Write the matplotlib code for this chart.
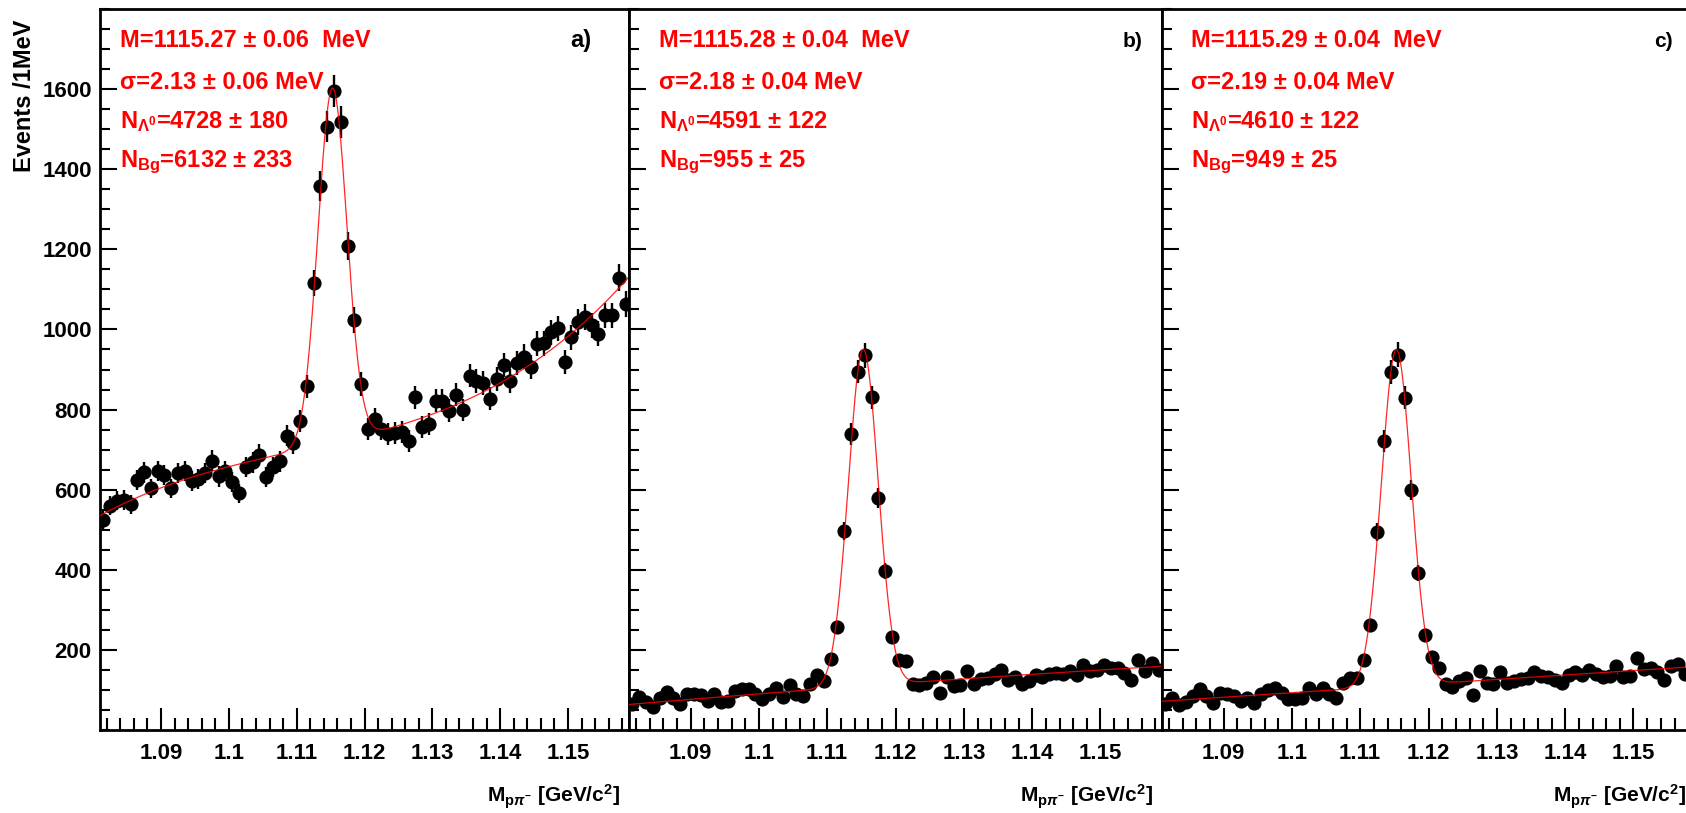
import numpy as np
import matplotlib
matplotlib.use('Agg')
import matplotlib.pyplot as plt
from matplotlib.ticker import MultipleLocator, FixedLocator, FuncFormatter

plt.rcParams['font.family'] = 'Liberation Sans'
plt.rcParams['font.weight'] = 'bold'
plt.rcParams['mathtext.fontset'] = 'custom'
plt.rcParams['mathtext.rm'] = 'Liberation Sans:bold'
plt.rcParams['mathtext.it'] = 'Liberation Sans:italic:bold'
plt.rcParams['mathtext.bf'] = 'Liberation Sans:bold'
plt.rcParams['mathtext.sf'] = 'Liberation Sans:bold'

# p pi- invariant mass, 1 MeV bins
x_lo, x_hi = 1.081, 1.159
mass = np.linspace(1.0815, 1.1585, 78)

counts_a = [525, 560, 572, 574, 564, 624, 643, 603, 647, 637,
            603, 641, 647, 622, 627, 641, 672, 633, 647, 618,
            591, 656, 668, 687, 631, 656, 671, 735, 716, 772,
            858, 1116, 1358, 1506, 1596, 1518, 1208, 1024, 864, 752,
            777, 752, 739, 741, 743, 722, 831, 756, 764, 822,
            822, 797, 837, 799, 885, 872, 866, 827, 877, 912,
            872, 916, 932, 907, 964, 966, 993, 1003, 918, 981,
            1018, 1031, 1010, 989, 1035, 1035, 1129, 1064]

counts_b = [64, 82, 71, 57, 81, 96, 81, 66, 89, 91,
            87, 72, 89, 71, 72, 97, 102, 102, 91, 77,
            89, 104, 82, 112, 89, 85, 114, 137, 122, 177,
            257, 497, 739, 895, 935, 831, 579, 397, 232, 174,
            172, 114, 112, 118, 132, 93, 132, 110, 112, 147,
            114, 127, 131, 139, 149, 124, 132, 114, 122, 137,
            132, 139, 143, 139, 147, 137, 162, 147, 149, 162,
            154, 154, 143, 124, 174, 147, 168, 150]

counts_c = [66, 81, 62, 71, 85, 102, 85, 68, 93, 89,
            85, 72, 81, 68, 89, 99, 104, 93, 77, 77,
            79, 106, 91, 104, 89, 81, 118, 131, 129, 174,
            262, 495, 721, 893, 937, 829, 599, 393, 237, 182,
            154, 114, 107, 122, 131, 87, 147, 118, 114, 146,
            118, 122, 127, 131, 146, 135, 132, 124, 118, 137,
            146, 137, 149, 139, 132, 135, 160, 132, 135, 179,
            152, 156, 146, 124, 160, 164, 139, 150]

# fit results (MeV)
fit_mass = [1115.27, 1115.28, 1115.29]
fit_mass_err = [0.06, 0.04, 0.04]
fit_sigma = [2.13, 2.18, 2.19]
fit_sigma_err = [0.06, 0.04, 0.04]
n_lambda = [4728, 4591, 4610]
n_lambda_err = [180, 122, 122]
n_bg = [6132, 955, 949]
n_bg_err = [233, 25, 25]

# background level of the fit function
bkg_x_a = [1.081, 1.085, 1.090, 1.095, 1.100, 1.105, 1.108, 1.122,
           1.124, 1.129, 1.134, 1.1385, 1.1435, 1.148, 1.153, 1.158]
bkg_y_a = [539, 568, 599, 631, 660, 679, 695, 743,
           756, 781, 814, 852, 902, 956, 1031, 1110]
bkg_x_b = [1.082, 1.088, 1.095, 1.107, 1.123, 1.129, 1.144, 1.156]
bkg_y_b = [60, 77, 85, 104, 118, 124, 139, 160]
bkg_x_c = [1.0813, 1.100, 1.1069, 1.1222, 1.1266, 1.1395, 1.1567]
bkg_y_c = [68, 97, 107, 117, 118, 131, 160]

panels = [
    (counts_a, bkg_x_a, bkg_y_a, 3, 'a)', 17),
    (counts_b, bkg_x_b, bkg_y_b, 2, 'b)', 15),
    (counts_c, bkg_x_c, bkg_y_c, 2, 'c)', 15),
]

W, H = 1686, 813
fig = plt.figure(figsize=(W / 100, H / 100), dpi=100)
lefts = [100, 629, 1162]
widths = [529, 533, 533]
top_px, bottom_px = 9, 730
text_dx = [20, 30, 29]
tag_dx = [38, 20, 22]

xs = np.linspace(x_lo, x_hi, 800)
red = '#ff0000'

for k, (counts, bx, by, deg, tag, tag_fs) in enumerate(panels):
    ax = fig.add_axes([lefts[k] / W, 1 - bottom_px / H,
                       widths[k] / W, (bottom_px - top_px) / H])
    counts = np.array(counts, dtype=float)
    ax.errorbar(mass, counts, yerr=np.sqrt(counts), fmt='o', color='black',
                ms=9.2, elinewidth=1.7, capsize=0, zorder=3)

    # fit function: polynomial background + gaussian signal
    coef = np.polyfit((np.array(bx) - 1.12) * 1000, by, deg)
    bkg = np.polyval(coef, (xs - 1.12) * 1000)
    m0 = fit_mass[k] / 1000
    s0 = fit_sigma[k] / 1000
    amp = n_lambda[k] / (fit_sigma[k] * np.sqrt(2 * np.pi))
    ax.plot(xs, bkg + amp * np.exp(-0.5 * ((xs - m0) / s0) ** 2),
            color=red, lw=0.9, alpha=0.85, zorder=4)

    ax.set_xlim(x_lo, x_hi)
    ax.set_ylim(0, 1800)
    ax.xaxis.set_major_locator(FixedLocator([1.09, 1.10, 1.11, 1.12, 1.13, 1.14, 1.15]))
    ax.xaxis.set_minor_locator(MultipleLocator(0.002))
    ax.xaxis.set_major_formatter(FuncFormatter(lambda v, p: '%g' % round(v, 3)))
    ax.yaxis.set_major_locator(FixedLocator([200, 400, 600, 800, 1000, 1200, 1400, 1600]))
    ax.yaxis.set_minor_locator(MultipleLocator(50))
    ax.tick_params(which='both', direction='in', top=False, right=False,
                   width=1.5, labelsize=16)
    ax.tick_params(axis='x', which='major', length=16, pad=9)
    ax.tick_params(axis='x', which='minor', length=8.5)
    ax.tick_params(axis='y', which='major', length=12, pad=6)
    ax.tick_params(axis='y', which='minor', length=7)
    if k > 0:
        ax.set_yticklabels([])
    for sp in ax.spines.values():
        sp.set_linewidth(2)

    # fit parameters
    tx = text_dx[k] / widths[k]
    hgt = bottom_px - top_px
    lines = [
        'M=%.2f ± %.2f  MeV' % (fit_mass[k], fit_mass_err[k]),
        'σ=%.2f ± %.2f MeV' % (fit_sigma[k], fit_sigma_err[k]),
        r'N$_{\Lambda^{0}}$=%d ± %d' % (n_lambda[k], n_lambda_err[k]),
        r'N$_{\mathrm{Bg}}$=%d ± %d' % (n_bg[k], n_bg_err[k]),
    ]
    for j, s in enumerate(lines):
        base = [47, 89, 128, 167][j]
        ax.text(tx, 1 - (base - top_px) / hgt, s, transform=ax.transAxes,
                color=red, fontsize=17, fontweight='bold', ha='left', va='baseline')
    ax.text(1 - tag_dx[k] / widths[k], 1 - (47 - top_px) / hgt, tag, transform=ax.transAxes,
            fontsize=tag_fs, fontweight='bold', ha='right', va='baseline')
    ax.text(1 - 9 / widths[k], -(797 - bottom_px) / hgt,
            r'M$_{\mathrm{p}\pi^{-}}$ [GeV/c$^{2}$]', transform=ax.transAxes,
            fontsize=15, fontweight='bold', ha='right', va='center')

fig.text(25 / W, 1 - 20 / H, 'Events /1MeV', rotation=90, ha='center', va='top',
         fontsize=17, fontweight='bold')

fig.savefig('out.png', dpi=100)
